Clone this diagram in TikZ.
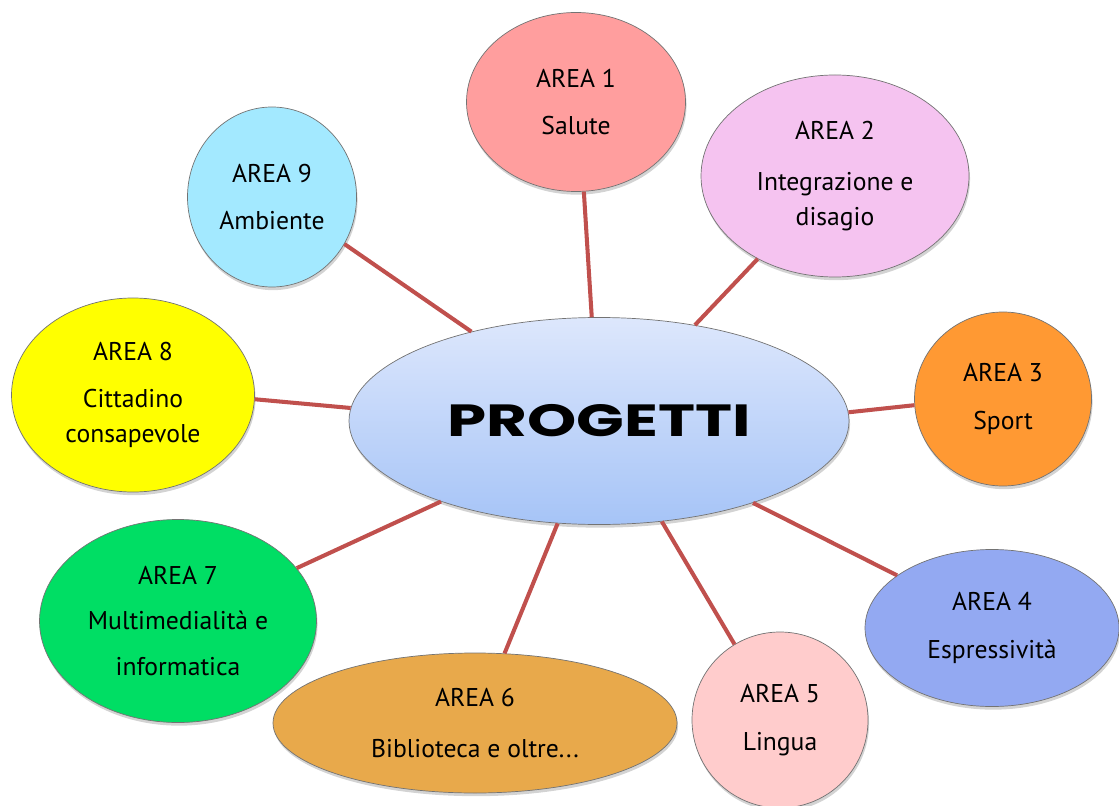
\documentclass[tikz,border=0pt]{standalone}
\usepackage{fontspec}
\setmainfont{PT Sans}
\newfontfamily\titlefont{Poppins}
\usepackage{tikz}
\usetikzlibrary{shapes.geometric,shadows}

\definecolor{linkred}{HTML}{C0504D}
\definecolor{progtop}{HTML}{DDE7FC}
\definecolor{progbot}{HTML}{A6C4F7}
\definecolor{salute}{HTML}{FF9E9E}
\definecolor{disagio}{HTML}{F5C3F0}
\definecolor{sport}{HTML}{FF9933}
\definecolor{espress}{HTML}{93A9F2}
\definecolor{lingua}{HTML}{FFCCCC}
\definecolor{biblio}{HTML}{E8A94B}
\definecolor{multim}{HTML}{00DE64}
\definecolor{cittad}{HTML}{FFFF00}
\definecolor{ambiente}{HTML}{A3E9FF}

\begin{document}
\begin{tikzpicture}[
    area/.style={ellipse, draw=black!55, line width=0.4pt, inner sep=0pt, align=center,
        font=\fontsize{14.6}{20}\selectfont,
        drop shadow={shadow xshift=0.6pt, shadow yshift=-1.8pt, opacity=0.35}},
    link/.style={color=linkred, line width=2.3pt}]
        \useasboundingbox (0,0) rectangle (22.38,16.1);

        \node[area, top color=progtop, bottom color=progbot, minimum width=10cm, minimum height=4.14cm,
              font=\titlefont\bfseries\fontsize{27}{30}\selectfont] (P) at (11.98,7.68) {\scalebox{1.32}[0.95]{PROGETTI}};

        \node[area, fill=salute,   minimum width=4.38cm, minimum height=3.58cm] (A1) at (11.52,14.06) {AREA 1\\[7pt]Salute};
        \node[area, fill=disagio,  minimum width=5.36cm, minimum height=4.04cm] (A2) at (16.70,12.58) {AREA 2\\[9pt]Integrazione e\\disagio};
        \node[area, fill=sport,    minimum width=3.54cm, minimum height=3.48cm] (A3) at (20.06,8.12)  {AREA 3\\[7pt]Sport};
        \node[area, fill=espress,  minimum width=5.08cm, minimum height=3.14cm] (A4) at (19.84,3.54)  {AREA 4\\[7pt]Espressività};
        \node[area, fill=lingua,   minimum width=3.52cm, minimum height=3.52cm] (A5) at (15.60,1.70)  {AREA 5\\[7pt]Lingua};
        \node[area, fill=biblio,   minimum width=8.08cm, minimum height=2.80cm] (A6) at (9.50,1.64)   {AREA 6\\[9pt]Biblioteca e oltre...};
        \node[area, fill=multim,   minimum width=5.54cm, minimum height=4.06cm] (A7) at (3.56,3.68)   {AREA 7\\[6pt]Multimedialità e\\[6pt]informatica};
        \node[area, fill=cittad,   minimum width=4.86cm, minimum height=3.88cm] (A8) at (2.66,8.20)   {AREA 8\\[7pt]Cittadino\\consapevole};
        \node[area, fill=ambiente, minimum width=3.38cm, minimum height=3.60cm] (A9) at (5.44,12.16)  {AREA 9\\[7pt]Ambiente};

        \path [link](P.94)   edge (A1.-85);
        \path [link](P.45)   edge (A2.-133);
        \path [link](P.2.5)  edge (A3.-176);
        \path [link](P.-28.6) edge (A4.151);
        \path [link](P.-58.7) edge (A5.121);
        \path [link](P.-112) edge (A6.67);
        \path [link](P.-153.4) edge (A7.24.8);
        \path [link](P.177)  edge (A8.-2.4);
        \path [link](P.145)  edge (A9.-33);
    \end{tikzpicture}
\end{document}
